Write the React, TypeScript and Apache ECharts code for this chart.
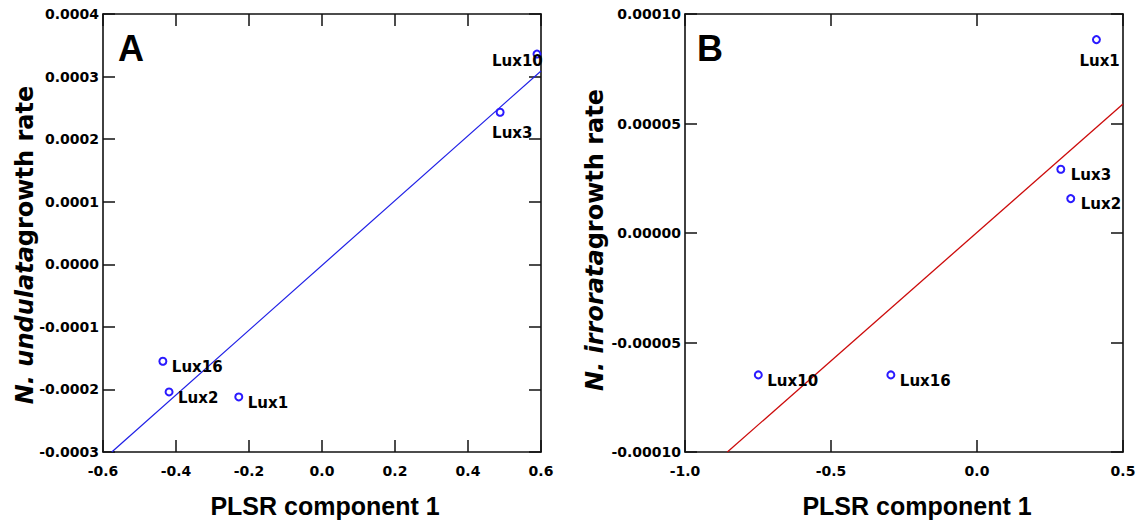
import React, { useEffect, useRef } from "react";
import * as echarts from "echarts";

// ---- Data ----
const namesA = ["Lux10", "Lux3", "Lux16", "Lux2", "Lux1"];
const xA = [0.589, 0.488, -0.436, -0.419, -0.228];
const yA = [0.000336, 0.000243, -0.000155, -0.000204, -0.000212];
const fitA_x = [-0.576, 0.6];
const fitA_y = [-0.0003, 0.000309];

const namesB = ["Lux1", "Lux3", "Lux2", "Lux10", "Lux16"];
const xB = [0.409, 0.287, 0.321, -0.749, -0.295];
const yB = [0.0000883, 0.0000291, 0.0000157, -0.0000648, -0.0000648];
const fitB_x = [-0.855, 0.5];
const fitB_y = [-0.0001, 0.0000589];

const xTitle = "PLSR component 1";
const yTitleA = ["N. undulata", "growth rate"];
const yTitleB = ["N. irrorata", "growth rate"];

// ---- Label placement (style, not data): offset of label left edge / middle from point ----
const labelOffsetA: Record<string, [number, number]> = {
  Lux10: [-44, 8],
  Lux3: [-7, 22],
  Lux16: [10, 7],
  Lux2: [10, 7],
  Lux1: [10, 7],
};
const labelOffsetB: Record<string, [number, number]> = {
  Lux1: [-16, 22],
  Lux3: [11, 7],
  Lux2: [11, 6],
  Lux10: [10, 7],
  Lux16: [10, 7],
};

const FONT = "'DejaVu Sans', sans-serif";
const ARIAL = "'Liberation Sans', Arial, sans-serif";
const AXIS_COLOR = "#111";
const SYMBOL = 7;

function fmt(dec: number) {
  return (v: number) => (Math.abs(v) < 1e-12 ? 0 : v).toFixed(dec);
}

function axisBase(grid: number, min: number, max: number, interval: number) {
  return {
    gridIndex: grid,
    type: "value",
    min,
    max,
    interval,
    axisLine: { show: true, onZero: false, lineStyle: { color: AXIS_COLOR, width: 1.6 } },
    axisTick: { show: true, inside: true, length: 12, lineStyle: { color: AXIS_COLOR, width: 1.5 } },
    splitLine: { show: false },
  };
}

function pointsData(names: string[], xs: number[], ys: number[], offs: Record<string, [number, number]>) {
  return names.map((n, i) => {
    const o = offs[n] || [10, 7];
    return {
      name: n,
      value: [xs[i], ys[i]],
      label: {
        show: true,
        formatter: n,
        position: [o[0] + SYMBOL / 2, o[1] + SYMBOL / 2],
        align: "left",
        verticalAlign: "middle",
        fontFamily: FONT,
        fontWeight: "bold",
        fontSize: 15,
        color: "#000",
        opacity: 1,
        textBorderWidth: 0,
        textBorderColor: "transparent",
      },
    };
  });
}

function yTitle(parts: string[], x: number, y: number) {
  return {
    type: "text",
    x,
    y,
    rotation: Math.PI / 2,
    style: {
      text: `{i|${parts[0]}}{n|${parts[1]}}`,
      align: "center",
      verticalAlign: "middle",
      rich: {
        i: { fontFamily: FONT, fontWeight: "bold", fontStyle: "italic", fontSize: 24, fill: "#000" },
        n: { fontFamily: FONT, fontWeight: "bold", fontSize: 24, fill: "#000" },
      },
    },
  };
}

function xTitleG(x: number, y: number) {
  return {
    type: "text",
    x,
    y,
    style: {
      text: xTitle,
      align: "center",
      verticalAlign: "middle",
      fontFamily: ARIAL,
      fontWeight: "bold",
      fontSize: 25,
      fill: "#000",
    },
  };
}

export default function App() {
  const ref = useRef<HTMLDivElement>(null);
  useEffect(() => {
    if (!ref.current) return;
    const chart = echarts.init(ref.current, undefined, { renderer: "svg" });
    const tickLabel = { fontFamily: FONT, fontWeight: "bold", fontSize: 14, color: "#000" };
    const scatterStyle = { color: "#2a1aff", borderWidth: 1.3, opacity: 1 };
    chart.setOption({
      animation: false,
      backgroundColor: "#fff",
      grid: [
        { left: 103, top: 14, width: 438, height: 438 },
        { left: 685, top: 14, width: 438, height: 438 },
      ],
      xAxis: [
        {
          ...axisBase(0, -0.6, 0.6, 0.2),
          position: "bottom",
          axisLabel: { ...tickLabel, margin: 12, formatter: fmt(1) },
        },
        { ...axisBase(0, -0.6, 0.6, 0.2), position: "top", axisLabel: { show: false } },
        {
          ...axisBase(1, -1.0, 0.5, 0.5),
          position: "bottom",
          axisLabel: { ...tickLabel, margin: 12, formatter: fmt(1) },
        },
        { ...axisBase(1, -1.0, 0.5, 0.5), position: "top", axisLabel: { show: false } },
      ],
      yAxis: [
        {
          ...axisBase(0, -0.0003, 0.0004, 0.0001),
          position: "left",
          axisLabel: { ...tickLabel, margin: 4, formatter: fmt(4) },
        },
        { ...axisBase(0, -0.0003, 0.0004, 0.0001), position: "right", axisLabel: { show: false } },
        {
          ...axisBase(1, -0.0001, 0.0001, 0.00005),
          position: "left",
          axisLabel: { ...tickLabel, margin: 4, formatter: fmt(5) },
        },
        { ...axisBase(1, -0.0001, 0.0001, 0.00005), position: "right", axisLabel: { show: false } },
      ],
      series: [
        {
          type: "line",
          xAxisIndex: 0,
          yAxisIndex: 0,
          data: fitA_x.map((x, i) => [x, fitA_y[i]]),
          symbol: "none",
          lineStyle: { color: "#1f1fe6", width: 1.2 },
          z: 2,
          silent: true,
        },
        {
          type: "scatter",
          xAxisIndex: 0,
          yAxisIndex: 0,
          symbol: "emptyCircle",
          symbolSize: SYMBOL,
          itemStyle: scatterStyle,
          data: pointsData(namesA, xA, yA, labelOffsetA),
          z: 3,
        },
        {
          type: "line",
          xAxisIndex: 2,
          yAxisIndex: 2,
          data: fitB_x.map((x, i) => [x, fitB_y[i]]),
          symbol: "none",
          lineStyle: { color: "#cc0a0a", width: 1.3 },
          z: 2,
          silent: true,
        },
        {
          type: "scatter",
          xAxisIndex: 2,
          yAxisIndex: 2,
          symbol: "emptyCircle",
          symbolSize: SYMBOL,
          itemStyle: scatterStyle,
          data: pointsData(namesB, xB, yB, labelOffsetB),
          z: 3,
        },
      ],
      graphic: [
        {
          type: "text",
          left: 118,
          top: 30,
          style: { text: "A", fontFamily: ARIAL, fontWeight: "bold", fontSize: 36, fill: "#000" },
        },
        {
          type: "text",
          left: 697,
          top: 30,
          style: { text: "B", fontFamily: ARIAL, fontWeight: "bold", fontSize: 36, fill: "#000" },
        },
        yTitle(yTitleA, 25, 245),
        yTitle(yTitleB, 595, 240),
        xTitleG(325, 506),
        xTitleG(917, 506),
      ],
    });
    return () => chart.dispose();
  }, []);
  return (
    <div
      ref={ref}
      style={{ position: "fixed", left: 0, top: 0, width: 1144, height: 520, background: "#fff" }}
    />
  );
}
